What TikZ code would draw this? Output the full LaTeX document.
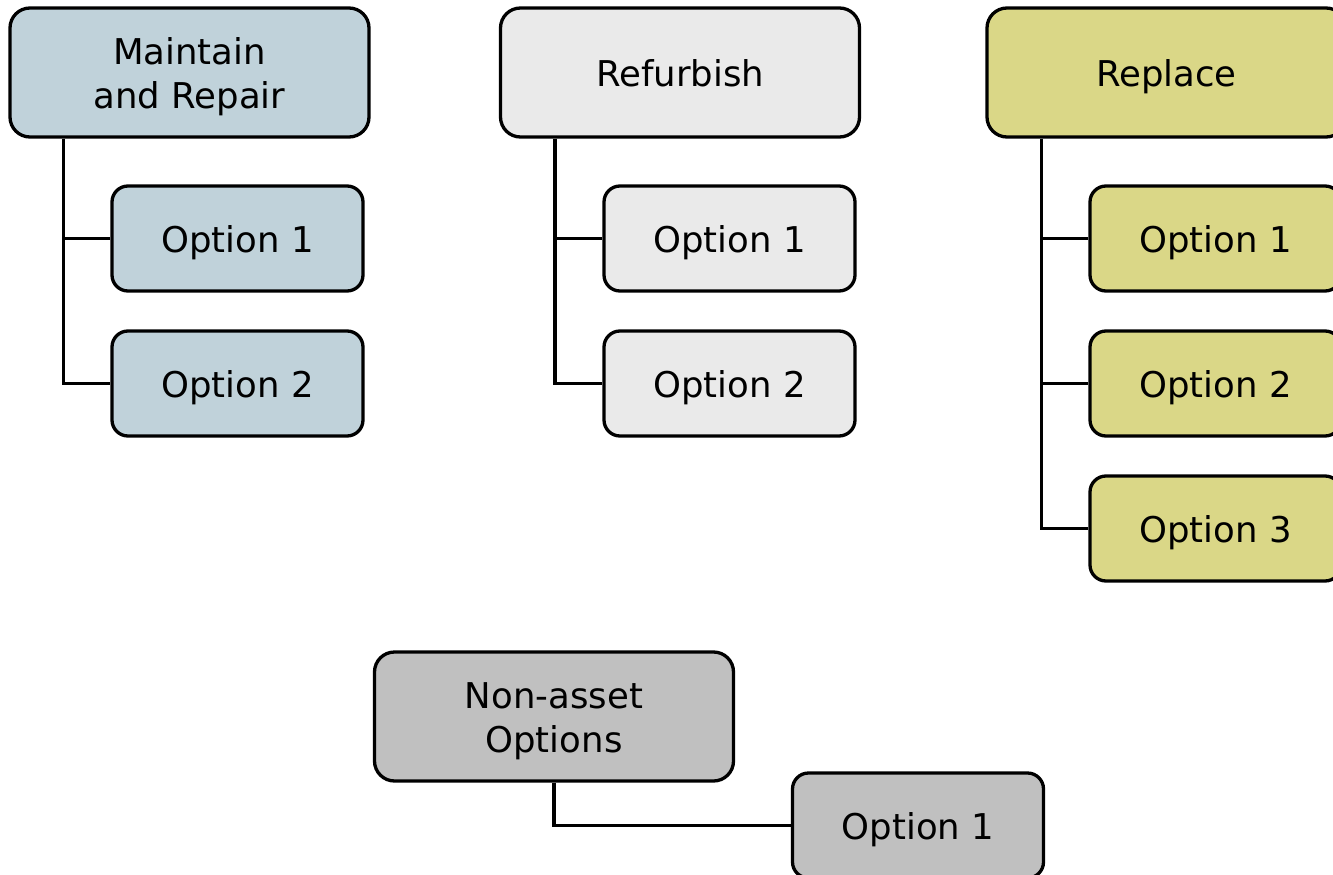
\documentclass[tikz,border=0pt]{standalone}
\usepackage{fontspec}
\setmainfont{DejaVu Sans}
\definecolor{cmr}{HTML}{C0D2DA}
\definecolor{crf}{HTML}{EAEAEA}
\definecolor{crp}{HTML}{DAD787}
\definecolor{cna}{HTML}{C0C0C0}
\newcommand{\twoline}[2]{\begin{tabular}{@{}c@{}}#1\\#2\end{tabular}}
\begin{document}
\begin{tikzpicture}[x=1pt,y=-1pt,
  every node/.style={font=\fontsize{35.5}{44}\selectfont},
  head/.style={draw=black, line width=3.3pt, rounded corners=20pt, minimum width=359pt, minimum height=129pt, inner sep=0pt},
  oneline/.style={text height=34pt, text depth=6pt},
  twolines/.style={text height=57pt, text depth=33.8pt},
  opt/.style={draw=black, line width=3.3pt, rounded corners=16pt, minimum width=251pt, minimum height=105pt, inner sep=0pt, text height=33pt, text depth=6pt},
  link/.style={line width=3.3pt}]
\useasboundingbox (0,0) rectangle (1333,875);
\clip (0,0) rectangle (1333,875);
% Maintain and Repair
\node[head, twolines, fill=cmr] (mr) at (189.5,72.5) {\twoline{Maintain}{and Repair}};
\node[opt, fill=cmr] (mro1) at (237.5,238.5) {Option 1};
\node[opt, fill=cmr] (mro2) at (237.5,383.5) {Option 2};
\coordinate (mrt) at ([xshift=55pt]mr.south west);
\draw[link] (mrt) |- (mro2.west);
\draw[link] (mrt |- mro1.west) -- (mro1.west);
% Refurbish
\node[head, oneline, fill=crf] (rf) at (680,72.5) {Refurbish};
\node[opt, fill=crf] (rfo1) at (729.5,238.5) {Option 1};
\node[opt, fill=crf] (rfo2) at (729.5,383.5) {Option 2};
\coordinate (rft) at ([xshift=56pt]rf.south west);
\draw[link] (rft) |- (rfo2.west);
\draw[link] (rft |- rfo1.west) -- (rfo1.west);
% Replace
\node[head, oneline, fill=crp] (rp) at (1166.5,72.5) {Replace};
\node[opt, fill=crp] (rpo1) at (1215.5,238.5) {Option 1};
\node[opt, fill=crp] (rpo2) at (1215.5,383.5) {Option 2};
\node[opt, fill=crp] (rpo3) at (1215.5,528.5) {Option 3};
\coordinate (rpt) at ([xshift=56pt]rp.south west);
\draw[link] (rpt) |- (rpo3.west);
\draw[link] (rpt |- rpo1.west) -- (rpo1.west);
\draw[link] (rpt |- rpo2.west) -- (rpo2.west);
% Non-asset
\node[head, twolines, fill=cna] (na) at (554,716.5) {\twoline{Non-asset}{Options}};
\node[opt, fill=cna] (nao1) at (918,825.5) {Option 1};
\draw[link] (na.south) |- (nao1.west);
\end{tikzpicture}
\end{document}
